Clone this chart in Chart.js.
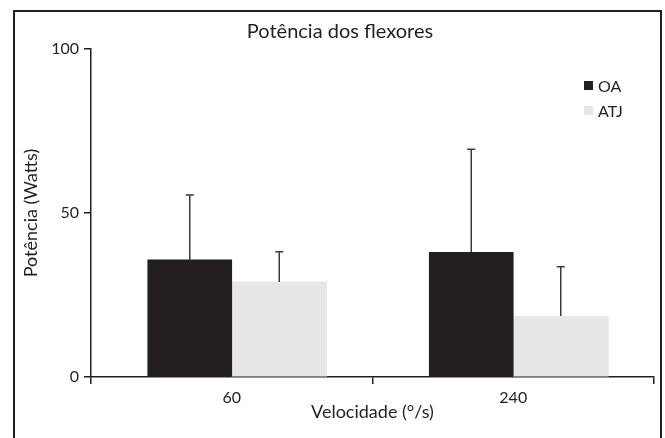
<!DOCTYPE html>
<html>
<head>
<meta charset="utf-8">
<script src="https://cdn.jsdelivr.net/npm/chart.js@4"></script>
<style>
  html, body { margin: 0; padding: 0; background: #fff; }
  #wrap { position: relative; width: 665px; height: 438px; overflow: hidden; }
  #frame { position: absolute; left: 13px; top: 10px; width: 645px; height: 450px;
           border: 2px solid #231f20; border-bottom: none; pointer-events: none; }
  #title { position: absolute; left: 140px; top: 18px; width: 400px; text-align: center;
           font: 20px Lato, sans-serif; line-height: 24px; color: #231f20; }
  #legend { position: absolute; left: 584px; top: 73px; font: 16px Lato, sans-serif; color: #231f20; }
  #legend div { height: 25px; display: flex; align-items: center; }
  #legend span.sw { width: 9px; height: 9px; margin-right: 5px; display: inline-block; }
</style>
</head>
<body>
<div id="wrap">
  <canvas id="chart" width="665" height="438"></canvas>
  <div id="frame"></div>
  <div id="title">Potência dos flexores</div>
  <div id="legend"></div>
</div>
<script>
// data
const categories = ['60', '240'];
const seriesNames = ['OA', 'ATJ'];
const oaMeans = [35.7, 38.0];
const oaErrors = [19.8, 31.4];
const atjMeans = [29.0, 18.6];
const atjErrors = [9.2, 15.0];
const yTicks = [0, 50, 100];

const INK = '#231f20';

// draws the upper error whiskers using the y scale
const errorBars = {
    id: 'errorBars',
    afterDatasetsDraw(chart) {
        const ctx = chart.ctx;
        const yScale = chart.scales.y;
        chart.data.datasets.forEach((ds, i) => {
            const meta = chart.getDatasetMeta(i);
            meta.data.forEach((bar, j) => {
                const top = yScale.getPixelForValue(ds.data[j] + ds.errors[j]);
                ctx.save();
                ctx.strokeStyle = '#3a3a3a';
                ctx.lineWidth = 1.5;
                ctx.beginPath();
                ctx.moveTo(bar.x, bar.y);
                ctx.lineTo(bar.x, top);
                ctx.moveTo(bar.x - 4, top);
                ctx.lineTo(bar.x + 4, top);
                ctx.stroke();
                ctx.restore();
            });
        });
    }
};

const chart = new Chart(document.getElementById('chart'), {
    type: 'bar',
    data: {
        labels: categories,
        datasets: [
            { label: seriesNames[0], data: oaMeans, errors: oaErrors, backgroundColor: INK, barThickness: 84 },
            { label: seriesNames[1], data: atjMeans, errors: atjErrors, backgroundColor: '#e6e7e8', barThickness: 95 }
        ]
    },
    options: {
        responsive: false,
        animation: false,
        layout: { padding: { left: 0, right: 11, top: 49, bottom: 0 } },
        plugins: { legend: { display: false }, tooltip: { enabled: false } },
        scales: {
            x: {
                offset: true,
                afterFit: (s) => { s.height = 61; },
                border: { color: INK, width: 1.5 },
                grid: { offset: true, drawOnChartArea: false, tickLength: 7, color: INK, lineWidth: 1.5 },
                ticks: { color: INK, font: { family: 'Lato', size: 16 }, padding: 4 },
                title: { display: true, text: 'Velocidade (°/s)', color: INK,
                         font: { family: 'Lato', size: 18 }, padding: { top: 15, bottom: 15 } }
            },
            y: {
                min: 0,
                max: 100,
                afterFit: (s) => { s.width = 91; },
                afterBuildTicks: (s) => { s.ticks = yTicks.map(v => ({ value: v })); },
                border: { color: INK, width: 1.5 },
                grid: { drawOnChartArea: false, tickLength: 7, color: INK, lineWidth: 1.5 },
                ticks: { color: INK, font: { family: 'Lato', size: 16 }, padding: 5 },
                title: { display: true, text: 'Potência (Watts)', color: INK,
                         font: { family: 'Lato', size: 18 }, padding: { top: 20, bottom: 20 } }
            }
        }
    },
    plugins: [errorBars]
});

// html legend from the datasets
const legend = document.getElementById('legend');
chart.data.datasets.forEach(ds => {
    const row = document.createElement('div');
    const sw = document.createElement('span');
    sw.className = 'sw';
    sw.style.background = ds.backgroundColor;
    row.appendChild(sw);
    row.appendChild(document.createTextNode(ds.label));
    legend.appendChild(row);
});
</script>
</body>
</html>
